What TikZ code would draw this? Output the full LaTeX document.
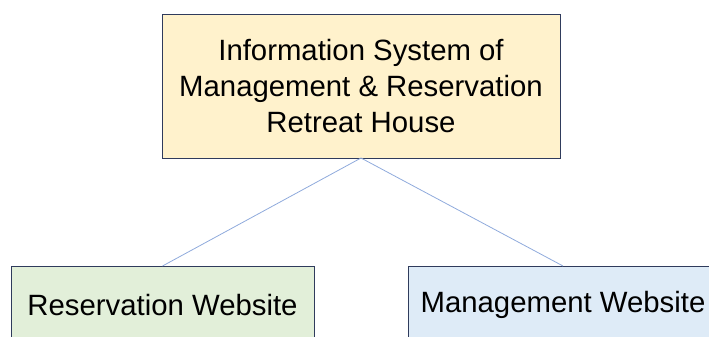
\documentclass[tikz,border=0pt]{standalone}
\usepackage{fontspec}
\setmainfont{Liberation Sans}
\usepackage{xcolor}
\usepackage{tikz}
\usetikzlibrary{positioning}

\definecolor{boxline}{HTML}{2F3B5C}
\definecolor{linkline}{HTML}{8FAADC}
\definecolor{yellowfill}{HTML}{FFF2CC}
\definecolor{greenfill}{HTML}{E2EFD9}
\definecolor{bluefill}{HTML}{DEEBF7}

\tikzset{
  block/.style={rectangle, draw=boxline, line width=0.75pt, align=center, font=\fontsize{22}{27}\selectfont, inner sep=0pt, outer sep=0pt},
  link/.style={draw=linkline, line width=0.6pt}
}

\begin{document}
\begin{tikzpicture}[x=0.75pt, y=0.75pt]
  \useasboundingbox (0,0) rectangle (709,336);
  \clip (0,0) rectangle (709,336);
  \node[block, fill=yellowfill, minimum width=298.5pt, minimum height=107.25pt] (System) at (361,249.5) {Information System of\\Management \& Reservation\\Retreat House};  % Top
  \node[block, fill=greenfill, minimum width=227.25pt, minimum height=58.5pt] (Reservation) at (162.5,31) {Reservation Website};  % Left
  \node[block, fill=bluefill, minimum width=232.5pt, minimum height=58.5pt] (Management) at (563,31) {Management Website};  % Right
  \draw[link] (System.south) -- (Reservation.north);  % Connect boxes
  \draw[link] (System.south) -- (Management.north);  % Connect boxes
\end{tikzpicture}
\end{document}
